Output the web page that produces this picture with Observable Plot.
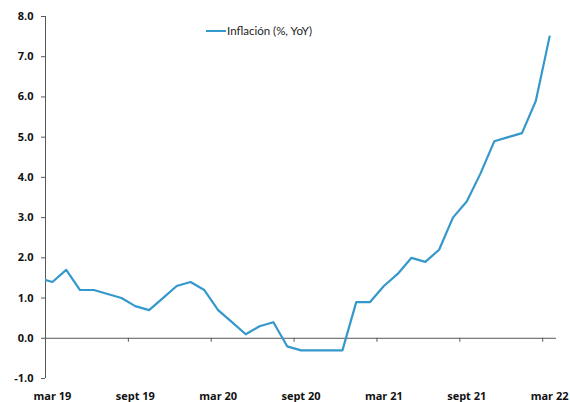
<!DOCTYPE html>
<html>
<head>
<meta charset="utf-8">
<script src="https://cdn.jsdelivr.net/npm/d3@7"></script>
<script src="https://cdn.jsdelivr.net/npm/@observablehq/plot@0.6"></script>
<style>
  body { margin: 0; background: #fff; }
  #wrap { position: relative; width: 570px; height: 402px; font-family: Lato, "Open Sans", sans-serif; }
  #legend { position: absolute; left: 206px; top: 24px; display: flex; align-items: center; font-size: 11.5px; color: #222; }
  #legend .sw { width: 20px; height: 2px; background: #3598CB; margin-right: 1px; }
</style>
</head>
<body>
<div id="wrap">
  <div id="chart"></div>
  <div id="legend"><span class="sw"></span><span>Inflación (%, YoY)</span></div>
</div>
<script>
const months = [
  "feb 19","mar 19","abr 19","may 19","jun 19","jul 19","ago 19","sept 19","oct 19","nov 19","dic 19",
  "ene 20","feb 20","mar 20","abr 20","may 20","jun 20","jul 20","ago 20","sept 20","oct 20","nov 20","dic 20",
  "ene 21","feb 21","mar 21","abr 21","may 21","jun 21","jul 21","ago 21","sept 21","oct 21","nov 21","dic 21",
  "ene 22","feb 22","mar 22"
];
const inflation = [
  1.5, 1.4, 1.7, 1.2, 1.2, 1.1, 1.0, 0.8, 0.7, 1.0, 1.3,
  1.4, 1.2, 0.7, 0.4, 0.1, 0.3, 0.4, -0.2, -0.3, -0.3, -0.3, -0.3,
  0.9, 0.9, 1.3, 1.6, 2.0, 1.9, 2.2, 3.0, 3.4, 4.1, 4.9, 5.0,
  5.1, 5.9, 7.5
];
const xTickLabels = ["mar 19","sept 19","mar 20","sept 20","mar 21","sept 21","mar 22"];
const yTicks = [-1, 0, 1, 2, 3, 4, 5, 6, 7, 8];

const lineColor = "#3598CB";
const axisColor = "#595959";
const tickFont = "'Open Sans', Lato, sans-serif";

// category index: "mar 19" occupies [0,1], centre 0.5
const first = months.indexOf("mar 19");
const data = months.map((m, i) => ({month: m, pos: i - first + 0.5, value: inflation[i]}));
const nCats = months.length - first;
const labelPos = xTickLabels.map(l => months.indexOf(l) - first + 0.5);
const tickPos = labelPos.map(p => p - 0.5);
const labelOf = new Map(labelPos.map((p, i) => [p, xTickLabels[i]]));

const chart = Plot.plot({
  width: 570,
  height: 402,
  marginLeft: 45,
  marginRight: 14,
  marginTop: 16,
  marginBottom: 24,
  style: {fontFamily: tickFont, color: "#111", background: "#fff"},
  x: {domain: [0, nCats], axis: null, label: null},
  y: {domain: [-1, 8], axis: null, label: null},
  marks: [
    Plot.ruleX([0], {stroke: axisColor, strokeWidth: 1}),
    Plot.ruleY([0], {stroke: axisColor, strokeWidth: 1}),
    Plot.axisY({ticks: yTicks, tickFormat: d => d.toFixed(1), tickSize: 4, tickPadding: 8, label: null,
                fontSize: 11, fontWeight: "bold", stroke: axisColor, color: "#111"}),
    Plot.ruleX(tickPos, {x: d => d, y1: 0, y2: -0.1, stroke: axisColor}),
    Plot.axisX({ticks: labelPos, tickFormat: d => labelOf.get(d), tickSize: 0, tickPadding: 14, label: null,
                fontSize: 11, fontWeight: "bold", color: "#111"}),
    Plot.line(data, {x: "pos", y: "value", stroke: lineColor, strokeWidth: 2.2, clip: true})
  ]
});
document.getElementById("chart").appendChild(chart);
</script>
</body>
</html>
